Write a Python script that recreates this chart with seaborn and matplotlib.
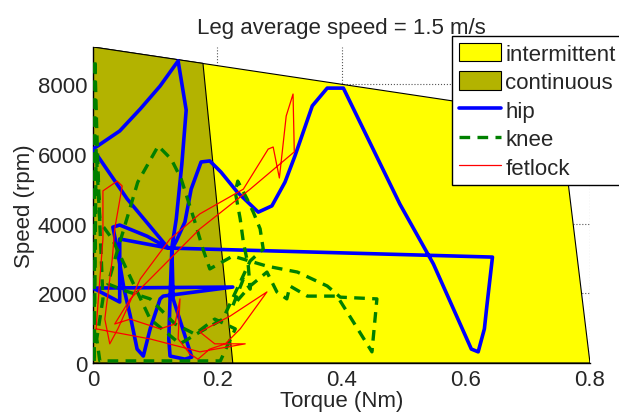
import pandas as pd
import matplotlib
matplotlib.use("Agg")
import matplotlib.pyplot as plt
import seaborn as sns
from matplotlib.patches import Patch
from matplotlib.lines import Line2D

# motor operating envelopes (torque Nm, speed rpm)
intermittent_torque = [0, 0, 0.752, 0.8]
intermittent_speed = [0, 9070, 7060, 0]
continuous_torque = [0, 0, 0.177, 0.225]
continuous_speed = [0, 9070, 8600, 0]

# joint trajectories
hip_torque = [0.0, 0.043, 0.076, 0.108, 0.137, 0.150, 0.143, 0.134, 0.127,
              0.124, 0.122, 0.124, 0.148, 0.159, 0.129, 0.127, 0.134, 0.148, 0.158,
              0.174, 0.188, 0.206, 0.232, 0.266, 0.288, 0.309, 0.325, 0.353, 0.377,
              0.403, 0.494, 0.548, 0.609, 0.620, 0.630, 0.634, 0.643, 0.121, 0.087,
              0.043, 0.032, 0.039, 0.050, 0.060, 0.071, 0.081, 0.092, 0.108, 0.113,
              0.225, 0.0, 0.043, 0.043, 0.121, 0.055, 0.0]
hip_speed = [6140, 6660, 7290, 7950, 8670, 7260, 5710, 4130, 3330,
             1840, 690, 200, 110, 170, 1840, 3270, 3500, 4050, 4990,
             5770, 5800, 5480, 4910, 4330, 4510, 5190, 5940, 7380, 7890,
             7890, 4560, 2840, 400, 320, 980, 1640, 3040, 3300, 3640,
             3960, 3900, 3270, 2120, 1350, 400, 200, 980, 1840, 1920,
             2180, 2150, 1750, 3560, 3300, 4710, 6140]

knee_torque = [0.002, 0.003, 0.006, 0.011, 0.016, 0.006, 0.011, 0.205, 0.229, 0.196,
               0.164, 0.132, 0.092, 0.052, 0.024, 0.040, 0.052, 0.072, 0.105, 0.126,
               0.142, 0.164, 0.177, 0.188, 0.225, 0.280, 0.329, 0.377, 0.398, 0.457,
               0.449, 0.419, 0.393, 0.345, 0.317, 0.312, 0.296, 0.280, 0.253, 0.225,
               0.242, 0.253, 0.250, 0.242, 0.237, 0.229, 0.233, 0.248, 0.258, 0.269,
               0.274, 0.253, 0.209, 0.172, 0.140, 0.092, 0.031, 0.011, 0.005, 0.002]
knee_speed = [60, 8720, 6720, 3990, 1840, 690, 60, 60, 980, 1260,
              830, 1120, 1840, 2070, 2270, 3270, 3990, 5190, 6230, 5850,
              5280, 4050, 3270, 2700, 3070, 2780, 2610, 2210, 1890, 1840,
              320, 1180, 1920, 1920, 2210, 1840, 2040, 2610, 2210, 1640,
              2410, 2120, 2780, 3470, 4130, 4910, 5220, 4710, 4330, 3850,
              3270, 2930, 1260, 890, 550, 1260, 3560, 4050, 6140, 60]

fetlock_torque = [0.005, 0.011, 0.016, 0.016, 0.039, 0.047, 0.035, 0.031, 0.019, 0.027,
                  0.040, 0.076, 0.124, 0.172, 0.242, 0.282, 0.290, 0.300, 0.311, 0.322,
                  0.324, 0.253, 0.172, 0.108, 0.060, 0.035, 0.060, 0.108, 0.132, 0.140,
                  0.137, 0.156, 0.169, 0.188, 0.213, 0.237, 0.280, 0.221, 0.172, 0.196,
                  0.245, 0.172, 0.092, 0.005]
fetlock_speed = [980, 2410, 3560, 4940, 5220, 5080, 3850, 2980, 1260, 550,
                 980, 2410, 3560, 4280, 4990, 6140, 6200, 5310, 7090, 7720,
                 6060, 4990, 3850, 2700, 1840, 1120, 1260, 980, 1120, 1840,
                 690, 260, 110, 400, 550, 980, 2040, 1350, 890, 550,
                 550, 320, 690, 980]

sns.set_style("white")
plt.rcParams['font.family'] = ['Liberation Sans', 'DejaVu Sans']

fig = plt.figure(figsize=(6.19, 4.14), dpi=100)
ax = fig.add_axes([93 / 619, 1 - 364 / 414, 497 / 619, 316 / 414])

ax.fill(intermittent_torque, intermittent_speed, facecolor='#ffff00',
        edgecolor='black', linewidth=0.8, zorder=1)
ax.fill(continuous_torque, continuous_speed, facecolor='#b3b300',
        edgecolor='black', linewidth=0.8, zorder=1)

hip = pd.DataFrame({'torque': hip_torque, 'speed': hip_speed})
knee = pd.DataFrame({'torque': knee_torque, 'speed': knee_speed})
fetlock = pd.DataFrame({'torque': fetlock_torque, 'speed': fetlock_speed})

sns.lineplot(data=hip, x='torque', y='speed', sort=False, estimator=None,
             color='#0000ff', linewidth=2.6, ax=ax, zorder=3)
sns.lineplot(data=knee, x='torque', y='speed', sort=False, estimator=None,
             color='#008000', linewidth=2.4, linestyle=(0, (3.2, 2.2)), ax=ax, zorder=3)
sns.lineplot(data=fetlock, x='torque', y='speed', sort=False, estimator=None,
             color='#ff0000', linewidth=0.9, ax=ax, zorder=4)

ax.set_xlim(0, 0.8)
ax.set_ylim(0, 9070)
ax.set_xticks([0, 0.2, 0.4, 0.6, 0.8])
ax.set_xticklabels(['0', '0.2', '0.4', '0.6', '0.8'])
ax.set_yticks([0, 2000, 4000, 6000, 8000])
ax.set_axisbelow(True)
ax.grid(True, linestyle=':', color='#555555', linewidth=0.8)
ax.tick_params(axis='both', direction='in', length=4, labelsize=16, pad=4)
for side in ['top', 'right']:
    ax.spines[side].set_visible(False)
for side in ['left', 'bottom']:
    ax.spines[side].set_color('black')
    ax.spines[side].set_linewidth(1.0)

ax.set_title('Leg average speed = 1.5 m/s', fontsize=16, pad=10)
ax.set_xlabel('Torque (Nm)', fontsize=16, labelpad=0)
ax.set_ylabel('Speed (rpm)', fontsize=16, labelpad=2)

handles = [
    Patch(facecolor='#ffff00', edgecolor='black', linewidth=0.8, label='intermittent'),
    Patch(facecolor='#b3b300', edgecolor='black', linewidth=0.8, label='continuous'),
    Line2D([], [], color='#0000ff', linewidth=2.6, label='hip'),
    Line2D([], [], color='#008000', linewidth=2.4, linestyle=(0, (3.2, 2.2)), label='knee'),
    Line2D([], [], color='#ff0000', linewidth=0.9, label='fetlock'),
]
leg = fig.legend(handles=handles, loc='upper left', bbox_to_anchor=(452 / 619, 1 - 37 / 414),
                 fontsize=16, frameon=True, fancybox=False, framealpha=1,
                 edgecolor='black', handlelength=1.9, handleheight=0.9,
                 handletextpad=0.2, labelspacing=0.3, borderpad=0.3, borderaxespad=0)
leg.get_frame().set_linewidth(1.0)

fig.savefig('out.png', dpi=100)
